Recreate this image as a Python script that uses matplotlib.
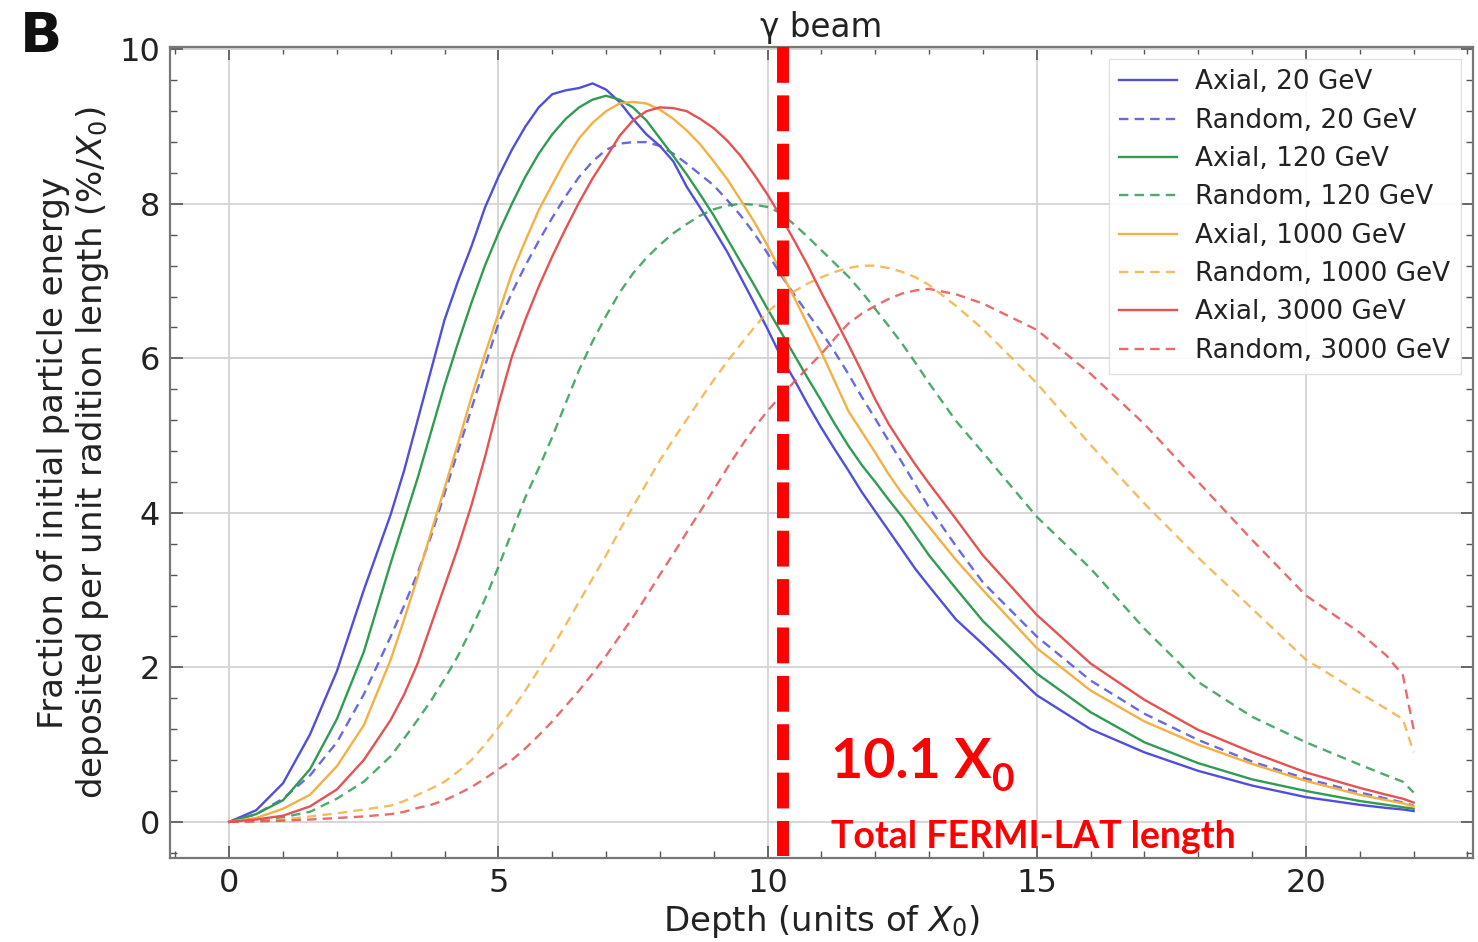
import matplotlib
matplotlib.use("Agg")
import matplotlib.pyplot as plt
from matplotlib.ticker import MultipleLocator

# ---------------- data ----------------
depth = [0, 0.5, 1, 1.5, 2, 2.5,
         3, 3.25, 3.5, 3.75, 4, 4.25, 4.5, 4.75, 5, 5.25, 5.5, 5.75, 6, 6.25,
         6.5, 6.75, 7, 7.25, 7.5, 7.75, 8, 8.25, 8.5, 8.75, 9, 9.25, 9.5, 9.75,
         10, 10.25, 10.5, 10.75, 11, 11.25, 11.5, 11.75, 12, 12.25, 12.5, 12.75, 13,
         13.5, 14, 15, 16, 17, 18, 19, 20, 21, 21.5, 21.8, 22]

axial_20 = [0, 0.15, 0.5, 1.13, 1.95, 3.0,
            3.98, 4.55, 5.2, 5.85, 6.5, 7.0, 7.45, 7.95, 8.35, 8.7, 9.0, 9.25, 9.42,
            9.47, 9.5, 9.56, 9.48, 9.32, 9.1, 8.9, 8.75, 8.55, 8.22, 7.95, 7.67,
            7.38, 7.05, 6.72, 6.38, 6.02, 5.72, 5.4, 5.1, 4.82, 4.55, 4.27, 4.02,
            3.77, 3.52, 3.27, 3.05,
            2.62, 2.3, 1.64, 1.2, 0.9, 0.66, 0.47, 0.32, 0.22, 0.18, 0.16, 0.14]
random_20 = [0, 0.1, 0.3, 0.6, 1.03, 1.65,
             2.4, 2.8, 3.22, 3.7, 4.25, 4.8, 5.35, 5.9, 6.45, 6.85, 7.2, 7.52, 7.82,
             8.1, 8.35, 8.55, 8.7, 8.78, 8.8, 8.8, 8.75, 8.65, 8.52, 8.38, 8.24,
             8.05, 7.85, 7.62, 7.36, 7.08, 6.82, 6.58, 6.34, 6.08, 5.8, 5.5, 5.22,
             4.93, 4.65, 4.36, 4.07,
             3.57, 3.1, 2.4, 1.83, 1.4, 1.06, 0.78, 0.56, 0.38, 0.3, 0.25, 0.21]
axial_120 = [0, 0.1, 0.28, 0.68, 1.33, 2.2,
             3.35, 3.9, 4.45, 5.05, 5.65, 6.2, 6.72, 7.2, 7.62, 8.0, 8.35, 8.65, 8.9,
             9.1, 9.25, 9.35, 9.4, 9.35, 9.25, 9.08, 8.85, 8.62, 8.38, 8.12, 7.85,
             7.55, 7.25, 6.95, 6.64, 6.34, 6.04, 5.74, 5.45, 5.15, 4.87, 4.62, 4.4,
             4.17, 3.95, 3.7, 3.45,
             3.02, 2.6, 1.92, 1.42, 1.03, 0.76, 0.55, 0.4, 0.27, 0.22, 0.19, 0.17]
random_120 = [0, 0.02, 0.06, 0.13, 0.3, 0.52,
              0.85, 1.08, 1.32, 1.57, 1.85, 2.15, 2.5, 2.88, 3.3, 3.75, 4.2, 4.58,
              4.98, 5.42, 5.85, 6.22, 6.55, 6.85, 7.1, 7.3, 7.47, 7.62, 7.74, 7.85,
              7.93, 7.98, 8.0, 7.99, 7.96, 7.88, 7.73, 7.57, 7.4, 7.23, 7.06, 6.86,
              6.64, 6.42, 6.19, 5.94, 5.68,
              5.19, 4.78, 3.95, 3.28, 2.5, 1.81, 1.36, 1.03, 0.74, 0.6, 0.52, 0.38]
axial_1000 = [0, 0.05, 0.17, 0.35, 0.72, 1.25,
              2.1, 2.62, 3.17, 3.75, 4.32, 4.9, 5.5, 6.05, 6.58, 7.1, 7.52, 7.92,
              8.25, 8.57, 8.85, 9.05, 9.2, 9.3, 9.32, 9.3, 9.22, 9.1, 8.95, 8.77,
              8.55, 8.32, 8.05, 7.77, 7.46, 7.12, 6.78, 6.43, 6.08, 5.7, 5.32, 5.05,
              4.78, 4.5, 4.25, 4.03, 3.82,
              3.39, 3.0, 2.25, 1.7, 1.3, 1.0, 0.75, 0.53, 0.35, 0.28, 0.24, 0.2]
random_1000 = [0, 0.01, 0.03, 0.07, 0.11, 0.16,
               0.21, 0.27, 0.35, 0.43, 0.52, 0.65, 0.8, 1.0, 1.22, 1.45, 1.7, 1.97,
               2.25, 2.55, 2.85, 3.15, 3.45, 3.77, 4.08, 4.38, 4.68, 4.95, 5.21, 5.47,
               5.72, 5.96, 6.18, 6.4, 6.6, 6.75, 6.87, 6.97, 7.05, 7.12, 7.17, 7.2,
               7.2, 7.17, 7.12, 7.05, 6.95,
               6.68, 6.38, 5.68, 4.88, 4.12, 3.42, 2.76, 2.1, 1.67, 1.46, 1.33, 0.9]
axial_3000 = [0, 0.03, 0.08, 0.2, 0.42, 0.8,
              1.32, 1.65, 2.05, 2.55, 3.05, 3.55, 4.1, 4.72, 5.4, 6.02, 6.5, 6.93,
              7.32, 7.68, 8.02, 8.33, 8.6, 8.88, 9.08, 9.2, 9.25, 9.24, 9.2, 9.1,
              8.98, 8.82, 8.62, 8.38, 8.12, 7.83, 7.52, 7.2, 6.85, 6.52, 6.18, 5.83,
              5.47, 5.15, 4.88, 4.62, 4.38,
              3.92, 3.45, 2.68, 2.05, 1.58, 1.19, 0.9, 0.64, 0.44, 0.35, 0.3, 0.25]
random_3000 = [0, 0.005, 0.015, 0.03, 0.05, 0.07,
               0.1, 0.13, 0.18, 0.22, 0.28, 0.36, 0.45, 0.56, 0.68, 0.8, 0.95, 1.12,
               1.3, 1.5, 1.7, 1.92, 2.15, 2.4, 2.65, 2.92, 3.2, 3.47, 3.75, 4.02,
               4.3, 4.58, 4.85, 5.1, 5.32, 5.52, 5.7, 5.88, 6.06, 6.26, 6.45, 6.58,
               6.68, 6.77, 6.84, 6.88, 6.9,
               6.83, 6.71, 6.37, 5.8, 5.15, 4.4, 3.65, 2.93, 2.45, 2.15, 1.9, 1.2]

energies = ["20", "120", "1000", "3000"]
axial_series = [axial_20, axial_120, axial_1000, axial_3000]
random_series = [random_20, random_120, random_1000, random_3000]
colors = ["#4f4fdc", "#2f9c52", "#f4b044", "#e65252"]

lat_depth = 10.28          # position of the red marker line
x_ticks = [0, 5, 10, 15, 20]
y_ticks = [0, 2, 4, 6, 8, 10]

# ---------------- figure ----------------
fig = plt.figure(figsize=(14.78, 9.42), dpi=100)
ax = fig.add_axes([0.115, 0.089, 0.8815, 0.861])

for e, a, r, c in zip(energies, axial_series, random_series, colors):
    ax.plot(depth, a, color=c, lw=1.7, label=f"Axial, {e} GeV")
    ax.plot(depth, r, color=c, lw=1.7, ls=(0, (4, 2.6)), alpha=0.85,
            label=f"Random, {e} GeV")

ax.set_xlim(-1.1, 23.1)
ax.set_ylim(-0.47, 10.03)
ax.set_xticks(x_ticks)
ax.set_yticks(y_ticks)
ax.xaxis.set_minor_locator(MultipleLocator(1))
ax.yaxis.set_minor_locator(MultipleLocator(0.4))
ax.grid(True, which="major", color="#d6d6d6", lw=1.4)
ax.set_axisbelow(True)
ax.tick_params(which="both", direction="in", top=True, right=True,
               colors="#555555", labelcolor="#222222")
ax.tick_params(which="major", length=9, width=1.2, labelsize=23, pad=7)
ax.tick_params(which="minor", length=5, width=1.0)
for s in ax.spines.values():
    s.set_color("#777777")
    s.set_linewidth(1.6)

ax.set_xlabel("Depth (units of $X_0$)", fontsize=24.5, color="#222222", labelpad=3)
ax.set_ylabel("Fraction of initial particle energy\n"
              "deposited per unit radition length (%/$X_0$)",
              fontsize=24.5, color="#222222", labelpad=6, linespacing=1.15)

leg = ax.legend(loc="upper right", fontsize=18.9, frameon=True, fancybox=False,
                edgecolor="#dddddd", framealpha=0.9, handlelength=2.2,
                handletextpad=0.7, labelspacing=0.47, borderaxespad=0.45)
for t in leg.get_texts():
    t.set_color("#222222")

# red vertical dashed marker (drawn top to bottom)
ax.plot([lat_depth, lat_depth], [1.0, 0.003], transform=ax.get_xaxis_transform(),
        color="#ff0000", lw=8.6, dashes=(3, 1.05), solid_capstyle="butt",
        dash_capstyle="butt", clip_on=False, zorder=5)

ax.text(11.0, 1.013, "γ beam", transform=ax.get_xaxis_transform(), ha="center",
        va="baseline", fontsize=23.5, color="#222222")

t1 = ax.text(11.17, 0.57, "10.1 X", fontsize=40, fontweight="bold",
             family="Lato", color="#ff0000", ha="left", va="baseline", zorder=6)
ax.annotate("0", xy=(1.0, 0.0), xycoords=t1, xytext=(1, -7),
            textcoords="offset points", fontsize=28, fontweight="bold",
            family="Lato", color="#ff0000", ha="left", va="bottom", zorder=6)
ax.text(11.17, -0.34, "Total FERMI-LAT length", fontsize=27, fontweight="bold",
        family="Lato", color="#ff0000", ha="left", va="baseline", zorder=6)

fig.text(0.0135, 0.945, "B", fontsize=40, fontweight="bold", color="#111111",
         ha="left", va="baseline")

fig.savefig("out.png", dpi=100)
